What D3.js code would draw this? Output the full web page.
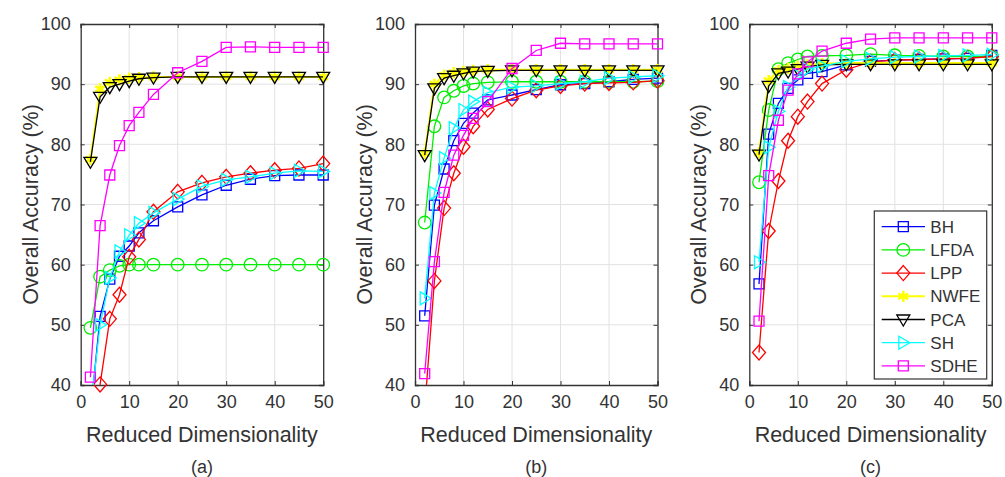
<!DOCTYPE html>
<html>
<head>
<meta charset="utf-8">
<script src="https://cdn.jsdelivr.net/npm/d3@7"></script>
<style>
  body { margin: 0; background: #fff; }
  svg { display: block; font-family: "Liberation Sans", Arial, sans-serif; }
</style>
</head>
<body>
<svg width="1005" height="477"></svg>
<script>
// reduced dimensionality values on the x axis
var dims = [2, 4, 6, 8, 10, 12, 15, 20, 25, 30, 35, 40, 45, 50];

var methods = ["BH", "LFDA", "LPP", "NWFE", "PCA", "SH", "SDHE"];
var colors  = ["#0000ff", "#00ee00", "#ff0000", "#ffff00", "#000000", "#00ffff", "#ff00ff"];
var markers = ["square", "circle", "diamond", "asterisk", "triDown", "triRight", "square"];

var xTicks = [0, 10, 20, 30, 40, 50];
var yTicks = [40, 50, 60, 70, 80, 90, 100];
var panelLabels = ["(a)", "(b)", "(c)"];

// panel (a)
var bh_a   = [35, 51.4, 57.6, 61.4, 63.1, 65.3, 67.3, 69.6, 71.6, 73.2, 74.2, 74.8, 74.9, 74.9];
var lfda_a = [49.5, 58, 59.1, 59.8, 60, 60, 60, 60, 60, 60, 60, 60, 60, 60];
var lpp_a  = [33, 40.1, 51.0, 55.0, 61.3, 64.2, 68.8, 72.1, 73.6, 74.6, 75.2, 75.7, 76.0, 76.8];
var nwfe_a = [77.5, 89.2, 90.3, 90.7, 91.0, 91.1, 91.2, 91.2, 91.2, 91.2, 91.2, 91.2, 91.2, 91.2];
var pca_a  = [77.1, 87.9, 89.5, 90.0, 90.5, 90.9, 91.1, 91.2, 91.2, 91.2, 91.2, 91.2, 91.2, 91.2];
var sh_a   = [36, 50, 57.8, 62.2, 64.9, 66.9, 68.6, 70.9, 73.0, 74.1, 74.6, 75.2, 75.6, 75.5];
var sdhe_a = [41.3, 66.5, 74.9, 79.8, 83.1, 85.3, 88.3, 91.9, 93.8, 96.1, 96.2, 96.1, 96.1, 96.1];

// panel (b)
var bh_b   = [51.5, 69.9, 75.9, 80.6, 83.5, 85.2, 87.4, 88.2, 89.1, 89.9, 90.1, 90.4, 90.8, 91.0];
var lfda_b = [67.0, 83.0, 87.8, 88.9, 89.7, 90.1, 90.3, 90.4, 90.4, 90.4, 90.4, 90.4, 90.4, 90.5];
var lpp_b  = [36, 57.3, 69.4, 75.2, 79.6, 83.0, 85.8, 87.6, 89.0, 89.7, 90.1, 90.2, 90.3, 90.6];
var nwfe_b = [78.5, 90.0, 91.5, 91.9, 92.1, 92.3, 92.4, 92.4, 92.4, 92.4, 92.4, 92.4, 92.4, 92.4];
var pca_b  = [78.2, 89.3, 91.0, 91.4, 91.8, 92.1, 92.2, 92.3, 92.3, 92.3, 92.3, 92.3, 92.3, 92.3];
var sh_b   = [54.4, 71.9, 77.7, 82.7, 85.7, 87.1, 88.6, 89.5, 89.7, 90.1, 90.4, 91.0, 91.2, 91.4];
var sdhe_b = [41.9, 60.5, 72.0, 78.2, 81.5, 84.3, 87.1, 92.6, 95.6, 96.8, 96.7, 96.7, 96.7, 96.7];

// panel (c)
var bh_c   = [56.8, 81.7, 86.8, 89.3, 90.7, 91.8, 92.1, 93.2, 93.8, 94.0, 94.1, 94.2, 94.3, 94.8];
var lfda_c = [73.7, 85.7, 92.5, 93.5, 94.1, 94.6, 94.7, 94.8, 95.0, 94.8, 94.7, 94.6, 94.6, 94.6];
var lpp_c  = [45.4, 65.6, 73.9, 80.6, 84.6, 87.1, 90.1, 92.4, 93.7, 94.0, 94.1, 94.2, 94.3, 94.6];
var nwfe_c = [78.6, 90.6, 92.3, 92.6, 93.0, 93.2, 93.4, 93.5, 93.5, 93.5, 93.5, 93.5, 93.5, 93.5];
var pca_c  = [78.3, 89.7, 91.8, 92.1, 92.5, 92.9, 93.2, 93.3, 93.3, 93.3, 93.3, 93.3, 93.3, 93.3];
var sh_c   = [60.4, 79.5, 85.5, 89.5, 91.5, 92.5, 93.0, 93.8, 94.2, 94.5, 94.6, 94.7, 94.8, 94.9];
var sdhe_c = [50.6, 74.8, 84.0, 89.0, 91.7, 93.7, 95.5, 96.8, 97.5, 97.7, 97.7, 97.7, 97.7, 97.7];

var panels = [
  [bh_a, lfda_a, lpp_a, nwfe_a, pca_a, sh_a, sdhe_a],
  [bh_b, lfda_b, lpp_b, nwfe_b, pca_b, sh_b, sdhe_b],
  [bh_c, lfda_c, lpp_c, nwfe_c, pca_c, sh_c, sdhe_c]
];

var svg = d3.select("svg");
var axisColor = "#333333", textColor = "#333333", gridColor = "#e2e2e2";
var panelLeft = [80.7, 415, 749.3], plotW = 242.5, plotTop = 24, plotH = 361;

function markerPath(type) {
  switch (type) {
    case "square":   return "M-5,-5h10v10h-10Z";
    case "circle":   return d3.symbol(d3.symbolCircle, Math.PI * 6.3 * 6.3)();
    case "diamond":  return "M0,-7.5L6.5,0L0,7.5L-6.5,0Z";
    case "triDown":  return "M-6.5,-4.5L6.5,-4.5L0,6.5Z";
    case "triRight": return "M-4.5,-6.5L6.5,0L-4.5,6.5Z";
    case "asterisk": return d3.symbol(d3.symbolAsterisk, 90)();
  }
}

panels.forEach(function(series, pi) {
  var x = d3.scaleLinear().domain([0, 50]).range([0, plotW]);
  var y = d3.scaleLinear().domain([40, 100]).range([plotH, 0]);

  var g = svg.append("g")
    .attr("transform", "translate(" + panelLeft[pi] + "," + plotTop + ")");

  g.append("defs").append("clipPath").attr("id", "clip" + pi)
    .append("rect").attr("width", plotW).attr("height", plotH);

  // grid
  g.append("g").selectAll("line").data(xTicks.slice(1, -1)).enter().append("line")
    .attr("x1", function(d) { return x(d); }).attr("x2", function(d) { return x(d); })
    .attr("y1", 0).attr("y2", plotH)
    .attr("stroke", gridColor).attr("stroke-width", 1);
  g.append("g").selectAll("line").data(yTicks.slice(1, -1)).enter().append("line")
    .attr("y1", function(d) { return y(d); }).attr("y2", function(d) { return y(d); })
    .attr("x1", 0).attr("x2", plotW)
    .attr("stroke", gridColor).attr("stroke-width", 1);

  // axes with inward ticks
  var xb = g.append("g").attr("transform", "translate(0," + plotH + ")")
    .call(d3.axisBottom(x).tickValues(xTicks).tickSize(-4).tickPadding(10));
  var xt = g.append("g").call(d3.axisTop(x).tickValues(xTicks).tickSize(-4).tickFormat(""));
  var yl = g.append("g").call(d3.axisLeft(y).tickValues(yTicks).tickSize(-4).tickPadding(10));
  var yr = g.append("g").attr("transform", "translate(" + plotW + ",0)")
    .call(d3.axisRight(y).tickValues(yTicks).tickSize(-4).tickFormat(""));
  [xb, xt, yl, yr].forEach(function(a) {
    a.select(".domain").attr("stroke", axisColor).attr("stroke-width", 1.3);
    a.selectAll(".tick line").attr("stroke", axisColor);
    a.selectAll(".tick text").attr("fill", textColor)
      .style("font-size", "18px").style("font-family", "Liberation Sans, Arial, sans-serif");
  });

  // data: lines clipped to the box, markers drawn only for in-range points
  var line = d3.line().x(function(d, i) { return x(dims[i]); }).y(function(d) { return y(d); });
  series.forEach(function(vals, si) {
    var s = g.append("g");
    s.append("path").datum(vals)
      .attr("clip-path", "url(#clip" + pi + ")")
      .attr("d", line)
      .attr("fill", "none")
      .attr("stroke", colors[si])
      .attr("stroke-width", si === 3 ? 2 : 1.3);
    var pts = vals.map(function(v, i) { return [dims[i], v]; })
      .filter(function(d) { return d[1] >= 40; });
    s.selectAll("path.m").data(pts)
      .enter().append("path").attr("class", "m")
      .attr("transform", function(d) { return "translate(" + x(d[0]) + "," + y(d[1]) + ")"; })
      .attr("d", markerPath(markers[si]))
      .attr("fill", "none")
      .attr("stroke", colors[si])
      .attr("stroke-width", si === 3 ? 2.5 : 1.3);
  });

  // labels
  g.append("text")
    .attr("x", plotW / 2).attr("y", 418)
    .attr("text-anchor", "middle").attr("fill", textColor)
    .style("font-size", "21.5px").text("Reduced Dimensionality");
  g.append("text")
    .attr("x", plotW / 2).attr("y", 449)
    .attr("text-anchor", "middle").attr("fill", textColor)
    .style("font-size", "18px").text(panelLabels[pi]);
  g.append("text")
    .attr("transform", "translate(-43," + (plotH / 2) + ") rotate(-90)")
    .attr("text-anchor", "middle").attr("fill", textColor)
    .style("font-size", "21.5px").text("Overall Accuracy (%)");

  // legend on the last panel
  if (pi === 2) {
    var lg = svg.append("g").attr("transform", "translate(874.3,211)");
    lg.append("rect").attr("width", 112.4).attr("height", 168)
      .attr("fill", "#fff").attr("stroke", axisColor).attr("stroke-width", 1.2);
    methods.forEach(function(m, si) {
      var ly = 15.7 + si * 23.2;
      lg.append("line").attr("x1", 7.4).attr("x2", 50.7).attr("y1", ly).attr("y2", ly)
        .attr("stroke", colors[si]).attr("stroke-width", si === 3 ? 2 : 1.3);
      lg.append("path").attr("transform", "translate(29," + ly + ")")
        .attr("d", markerPath(markers[si])).attr("fill", "none")
        .attr("stroke", colors[si]).attr("stroke-width", si === 3 ? 2.5 : 1.3);
      lg.append("text").attr("x", 56).attr("y", ly + 6)
        .attr("fill", textColor).style("font-size", "17px").text(m);
    });
  }
});
</script>
</body>
</html>
